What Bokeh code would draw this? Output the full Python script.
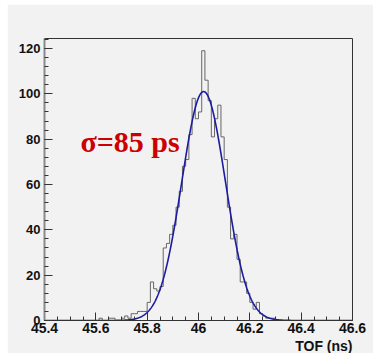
import numpy as np
from bokeh.plotting import figure
from bokeh.models import Label, Range1d, FixedTicker, Title
from bokeh.embed import file_html
from bokeh.resources import INLINE

# histogram: 96 bins of 0.0125 ns from 45.4 to 46.6
bin_start = 45.4
bin_width = 0.0125
counts = [0, 0, 0, 0, 0, 0, 0, 0, 0, 0, 0, 0, 0, 0, 0, 0, 0,
          1, 0, 0, 1, 1, 0, 0, 1, 2, 1, 3, 3, 4, 4, 4, 8, 17, 14, 13, 15,
          32, 34, 38, 42, 50, 57, 68, 71, 82, 98, 89, 92, 119, 106, 97, 81,
          89, 95, 81, 71, 50, 36, 38, 27, 17, 17, 12, 8, 5, 8, 3, 2, 1, 1, 1, 0,
          0, 0, 0, 0, 0, 0, 0, 0, 0, 0, 0, 0, 0, 0, 0, 0, 0, 0, 0, 0, 0, 0, 0]

# gaussian fit parameters
fit_amp = 101.0
fit_mean = 46.02
fit_sigma = 0.085

x_ticks = [45.4, 45.6, 45.8, 46.0, 46.2, 46.4, 46.6]
x_tick_labels = ["45.4", "45.6", "45.8", "46", "46.2", "46.4", "46.6"]
y_ticks = [0, 20, 40, 60, 80, 100, 120]
x_title = "TOF (ns)"
annotation = "σ=85 ps"

BG = "#f2f2f2"
p = figure(width=366, height=349, output_backend="svg", toolbar_location=None,
           x_range=Range1d(45.4, 46.6), y_range=Range1d(0, 124.4),
           min_border_left=37, min_border_right=21, min_border_top=34,
           min_border_bottom=0, margin=(4, 10, 0, 7))
p.background_fill_color = BG
p.border_fill_color = BG
p.outline_line_color = "#333333"
p.outline_line_width = 1
p.grid.visible = False

edges = [bin_start + bin_width * i for i in range(len(counts) + 1)]
p.step(x=edges, y=counts + [counts[-1]], mode="after",
       line_color="#666666", line_width=1)

xs = np.linspace(45.4, 46.6, 600)
ys = fit_amp * np.exp(-0.5 * ((xs - fit_mean) / fit_sigma) ** 2)
p.line(xs, ys, line_color="#1c1ca0", line_width=1.6)

font = "Liberation Sans"
for ax in (p.xaxis[0], p.yaxis[0]):
    ax.major_tick_in = 8
    ax.major_tick_out = 0
    ax.minor_tick_in = 4
    ax.minor_tick_out = 0
    ax.major_label_text_font = font
    ax.major_label_text_font_style = "bold"
    ax.major_label_text_font_size = "13px"
    ax.major_label_text_color = "#111111"
    ax.major_tick_line_color = "#333333"
    ax.minor_tick_line_color = "#333333"

p.xaxis[0].ticker = FixedTicker(ticks=x_ticks,
                                minor_ticks=[45.4 + 0.05 * i for i in range(25)])
p.xaxis[0].major_label_overrides = {t: l for t, l in zip(x_ticks, x_tick_labels)}
p.xaxis[0].major_label_standoff = 2
p.xaxis[0].major_label_text_font_size = "14px"
p.xaxis[0].axis_line_color = "#333333"

p.yaxis[0].ticker = FixedTicker(ticks=y_ticks, minor_ticks=list(range(0, 125, 4)))
p.yaxis[0].major_label_standoff = 4
p.yaxis[0].axis_line_color = "#8a8a8a"
p.yaxis[0].axis_line_width = 2

p.add_layout(Title(text=x_title, align="right", text_font=font,
                   text_font_style="bold", text_font_size="14px",
                   text_color="#111111", standoff=0, offset=0), "below")

p.add_layout(Label(x=45.54, y=79.0, text=annotation, text_align="left",
                   text_baseline="alphabetic", text_font="Liberation Serif",
                   text_font_style="bold", text_font_size="30px",
                   text_color="#cc0000"))

open("out.html", "w").write(file_html(p, INLINE))
